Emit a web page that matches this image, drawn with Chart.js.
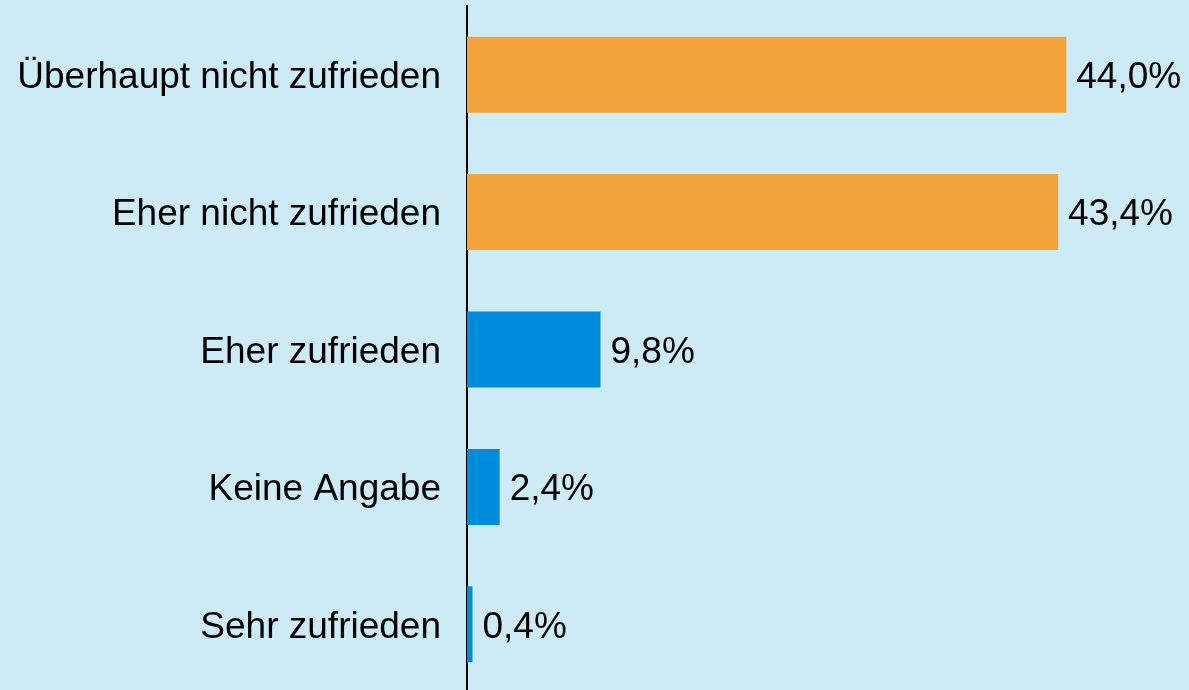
<!DOCTYPE html>
<html><head><meta charset="utf-8">
<script src="https://cdn.jsdelivr.net/npm/chart.js@4"></script>
<style>html,body{margin:0;padding:0;background:#CCEBF6;overflow:hidden;}#wrap{width:1189px;height:693px;}</style>
</head><body><div id="wrap"><canvas id="c"></canvas></div>
<script>
const categories = ["Überhaupt nicht zufrieden","Eher nicht zufrieden","Eher zufrieden","Keine Angabe","Sehr zufrieden"];
const values = [44.0, 43.4, 9.8, 2.4, 0.4];
const valueLabels = ["44,0%","43,4%","9,8%","2,4%","0,4%"];
const barColors = ["#F2A43A","#F2A43A","#008CDC","#008CDC","#008CDC"];

const FONT = "'Liberation Sans', Arial, sans-serif";
const bg = {id:'bg', beforeDraw(c){const x=c.ctx;x.save();x.fillStyle='#CCEBF6';x.fillRect(0,0,c.width,c.height);x.restore();}};
const lbl = {id:'lbl', afterDatasetsDraw(c){
  const ctx=c.ctx; const meta=c.getDatasetMeta(0);
  ctx.save(); ctx.font="37px "+FONT; ctx.fillStyle="#000"; ctx.textBaseline="middle"; ctx.textAlign="left";
  meta.data.forEach((b,i)=>{ ctx.fillText(valueLabels[i], b.x+10, b.y+3); });
  ctx.restore();
}};
new Chart(document.getElementById('c'),{
  type:'bar',
  data:{labels:categories, datasets:[{data:values, backgroundColor:barColors, borderWidth:0, categoryPercentage:1, barPercentage:0.553}]},
  options:{
    indexAxis:'y', responsive:true, maintainAspectRatio:false, animation:false,
    layout:{padding:{top:6,right:41,bottom:0,left:0}},
    plugins:{legend:{display:false}, tooltip:{enabled:false}},
    scales:{
      x:{display:false, min:0, max:50},
      y:{grid:{display:false, drawTicks:false}, border:{display:true,color:'#000',width:2},
         ticks:{color:'#000', font:{family:FONT,size:37}, padding:26, labelOffset:3},
         afterFit(s){ s.width=467; s.paddingTop=0; s.paddingBottom=0; }}
    }
  },
  plugins:[bg,lbl]
});
</script></body></html>
